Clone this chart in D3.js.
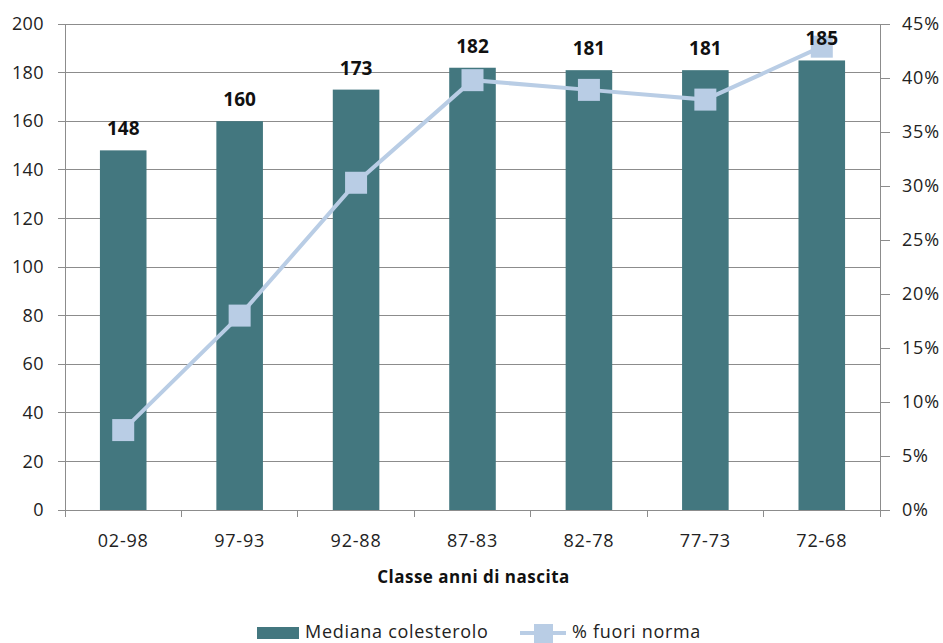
<!DOCTYPE html>
<html><head><meta charset="utf-8">
<script src="https://cdn.jsdelivr.net/npm/d3@7"></script>
<style>body{margin:0;background:#fff}svg{display:block}</style>
</head><body>
<svg id="c" width="943" height="643"></svg>
<script>
const categories = ["02-98","97-93","92-88","87-83","82-78","77-73","72-68"];
const colesterolo = [148,160,173,182,181,181,185];
const fuoriNorma = [0.074,0.18,0.303,0.398,0.389,0.38,0.429];
const leftTicks = [0,20,40,60,80,100,120,140,160,180,200];
const rightTicks = [0,0.05,0.10,0.15,0.20,0.25,0.30,0.35,0.40,0.45];

const svg = d3.select("#c");
const font = "'Open Sans', 'Liberation Sans', sans-serif";
const L = 65, R = 880, T = 24, B = 510;
const x = d3.scaleBand().domain(categories).range([L, R]).paddingInner(0.6).paddingOuter(0.3);
const y = d3.scaleLinear().domain([0,200]).range([B, T]);
const y2 = d3.scaleLinear().domain([0,0.45]).range([B, T]);
const grid = "#8c8c8c";

// gridlines
svg.append("g").selectAll("line").data(leftTicks).join("line")
  .attr("x1", L - 7).attr("x2", R).attr("y1", d => y(d)).attr("y2", d => y(d))
  .attr("stroke", grid).attr("stroke-width", 1).attr("shape-rendering","crispEdges");

// left axis
const ga = svg.append("g").attr("transform", `translate(${L},0)`)
  .call(d3.axisLeft(y).tickValues(leftTicks).tickSize(0).tickPadding(21));
ga.select(".domain").attr("stroke", grid).attr("shape-rendering","crispEdges");
ga.selectAll("text").attr("font-family", font).attr("font-size", 18).attr("letter-spacing", 0.4).attr("fill", "#222");

// right axis
const gr = svg.append("g").attr("transform", `translate(${R},0)`)
  .call(d3.axisRight(y2).tickValues(rightTicks).tickSize(10).tickPadding(12).tickFormat(d3.format(".0%")));
gr.selectAll("line, .domain").attr("stroke", grid).attr("shape-rendering","crispEdges");
gr.select(".domain").attr("d", `M0,${T}V${B}`);
gr.selectAll("text").attr("font-family", font).attr("font-size", 18).attr("letter-spacing", 0.8).attr("fill", "#222");

// x axis
const bounds = d3.range(categories.length + 1).map(i => L + i * (R - L) / categories.length);
svg.append("g").selectAll("line").data(bounds).join("line")
  .attr("x1", d => d).attr("x2", d => d).attr("y1", B).attr("y2", B + 7)
  .attr("stroke", grid).attr("shape-rendering","crispEdges");
svg.append("g").selectAll("text").data(categories).join("text")
  .attr("x", d => x(d) + x.bandwidth()/2).attr("y", B + 37)
  .attr("text-anchor", "middle").attr("font-family", font).attr("font-size", 18)
  .attr("letter-spacing", 0.8).attr("fill", "#222")
  .text(d => d);

// bars
svg.append("g").selectAll("rect").data(categories).join("rect")
  .attr("x", d => x(d)).attr("width", x.bandwidth())
  .attr("y", (d,i) => y(colesterolo[i])).attr("height", (d,i) => B - y(colesterolo[i]))
  .attr("fill", "#43777f");

// line
const line = d3.line().x((d,i) => x(categories[i]) + x.bandwidth()/2).y(d => y2(d));
svg.append("path").datum(fuoriNorma).attr("d", line)
  .attr("fill", "none").attr("stroke", "#b9cde5").attr("stroke-width", 4);
svg.append("g").selectAll("rect").data(fuoriNorma).join("rect")
  .attr("x", (d,i) => x(categories[i]) + x.bandwidth()/2 - 11)
  .attr("y", d => y2(d) - 11).attr("width", 22).attr("height", 22)
  .attr("fill", "#b9cde5");

// bar labels
svg.append("g").selectAll("text").data(categories).join("text")
  .attr("x", d => x(d) + x.bandwidth()/2).attr("y", (d,i) => y(colesterolo[i]) - 15)
  .attr("text-anchor", "middle").attr("font-family", font).attr("font-weight", "bold")
  .attr("font-size", 19).attr("fill", "#111")
  .text((d,i) => colesterolo[i]);

// axis title
svg.append("text").attr("x", (L+R)/2 + 1).attr("y", 583).attr("text-anchor","middle")
  .attr("font-family", font).attr("font-weight","bold").attr("font-size", 17)
  .attr("letter-spacing", 0.5).attr("fill","#111")
  .text("Classe anni di nascita");

// legend
const lg = svg.append("g");
lg.append("rect").attr("x", 257).attr("y", 627).attr("width", 42).attr("height", 12).attr("fill", "#43777f");
lg.append("text").attr("x", 305).attr("y", 638).attr("font-family", font).attr("font-size", 18)
  .attr("letter-spacing", 0.7).attr("fill","#222")
  .text("Mediana colesterolo");
lg.append("line").attr("x1", 520).attr("x2", 566).attr("y1", 633).attr("y2", 633)
  .attr("stroke", "#b9cde5").attr("stroke-width", 4);
lg.append("rect").attr("x", 534).attr("y", 624).attr("width", 19).attr("height", 19).attr("fill", "#b9cde5");
lg.append("text").attr("x", 572).attr("y", 638).attr("font-family", font).attr("font-size", 18)
  .attr("letter-spacing", 0.7).attr("fill","#222")
  .text("% fuori norma");
</script>
</body></html>
